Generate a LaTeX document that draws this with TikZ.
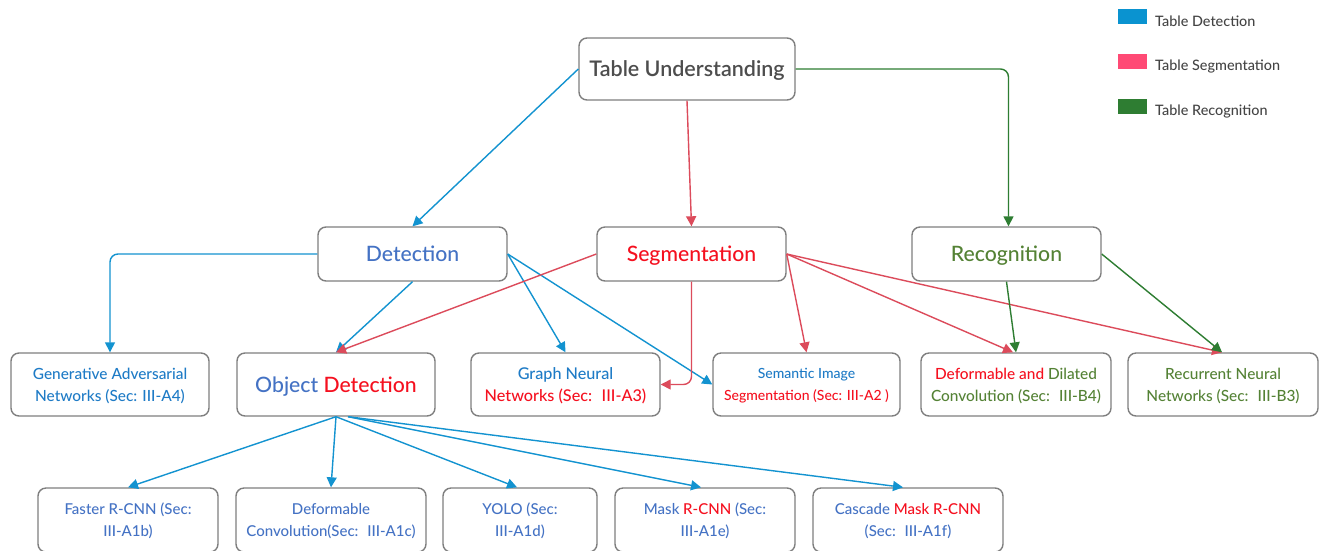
\documentclass[tikz,border=0pt]{standalone}
\usepackage{fontspec}
\IfFontExistsTF{Lato Medium}{\setmainfont{Lato Medium}}{\setmainfont{Lato}}
\IfFontExistsTF{Lato Semibold}{\newfontfamily\semib{Lato Semibold}}{\newcommand\semib{\bfseries}}
\usetikzlibrary{arrows.meta,calc}
\definecolor{boxgray}{HTML}{7F7F7F}
\definecolor{blueT}{HTML}{4472C4}
\definecolor{blueTT}{HTML}{1E7BC6}
\definecolor{redT}{HTML}{F5101F}
\definecolor{greenT}{HTML}{548235}
\definecolor{blueA}{HTML}{1393D0}
\definecolor{redA}{HTML}{DC4B5B}
\definecolor{greenA}{HTML}{2E7D32}
\definecolor{legBlue}{HTML}{0A93D0}
\definecolor{legPink}{HTML}{FF4A75}
\definecolor{legGreen}{HTML}{2E7D32}
\definecolor{darkT}{HTML}{4D4D4D}
\definecolor{legT}{HTML}{444444}
\tikzset{
  box/.style={draw=boxgray, line width=1.4pt, rounded corners=8pt, fill=white, align=center, inner sep=0pt, text depth=-5pt},
  big/.style={font=\fontsize{21.2}{25}\selectfont},
  mid/.style={font=\fontsize{15.4}{22}\selectfont},
  small/.style={font=\fontsize{15}{22}\selectfont},
  con/.style={line width=1.4pt, -{Triangle[length=10pt,width=10pt]}},
  legtext/.style={anchor=west, inner sep=0pt, text=legT, font=\fontsize{14.4}{16}\selectfont},
}
\begin{document}
\begin{tikzpicture}[x=1pt,y=-1pt]
\clip (0,0) rectangle (1324,550);
\fill[white] (0,0) rectangle (1324,550);
% top
\node[box, minimum width=216pt, minimum height=62pt, text=darkT, font=\fontsize{21.5}{25}\selectfont\semib] (tu) at (687,69) {Table Understanding};
% level 2
\node[box, big, minimum width=189pt, minimum height=54pt, text=blueT] (det) at (412.5,254) {Detection};
\node[box, big, minimum width=189pt, minimum height=54pt, text=redT] (seg) at (691.5,254) {Segmentation};
\node[box, big, minimum width=189pt, minimum height=54pt, text=greenT] (rec) at (1006.5,254) {Recognition};
% level 3
\node[box, mid, minimum width=198pt, minimum height=63pt, text=blueTT] (gan) at (110,384.5) {Generative Adversarial\\Networks (Sec: III-A4)};
\node[box, big, minimum width=198pt, minimum height=63pt] (obj) at (336,384.5) {\textcolor{blueT}{Object} \textcolor{redT}{Detection}};
\node[box, minimum width=189pt, minimum height=63pt, font=\fontsize{16.2}{22}\selectfont] (gnn) at (565.5,384.5) {\textcolor{blueTT}{Graph Neural}\\\textcolor{redT}{Networks (Sec:~ III-A3)}};
\node[box, minimum width=187pt, minimum height=63pt, font=\fontsize{14}{22}\selectfont] (sem) at (806.5,384.5) {\textcolor{blueTT}{Semantic Image}\\\textcolor{redT}{Segmentation (Sec: III-A2 )}};
\node[box, mid, minimum width=190pt, minimum height=63pt] (ddc) at (1016,384.5) {\textcolor{redT}{Deformable and} \textcolor{greenT}{Dilated}\\\textcolor{greenT}{Convolution (Sec:~ III-B4)}};
\node[box, mid, minimum width=190pt, minimum height=63pt, text=greenT] (rnn) at (1223,384.5) {Recurrent Neural\\Networks (Sec:~ III-B3)};
% level 4
\node[box, small, minimum width=180pt, minimum height=64pt, text=blueT] (frc) at (128,520) {Faster R-CNN (Sec:\\III-A1b)};
\node[box, small, minimum width=190pt, minimum height=64pt, text=blueT] (dcv) at (331,520) {Deformable\\Convolution(Sec:~ III-A1c)};
\node[box, small, minimum width=154pt, minimum height=64pt, text=blueT] (yolo) at (520,520) {YOLO (Sec:\\III-A1d)};
\node[box, small, minimum width=180pt, minimum height=64pt, text=blueT] (mrc) at (705,520) {Mask \textcolor{redT}{R-CNN} (Sec:\\III-A1e)};
\node[box, small, minimum width=190pt, minimum height=64pt, text=blueT] (cmr) at (908,520) {Cascade \textcolor{redT}{Mask R-CNN}\\(Sec:~ III-A1f)};
% connectors: detection (blue)
\draw[con, blueA] (tu.west) -- (det.north);
\draw[con, blueA, rounded corners=8pt] (det.west) -| (gan.north);
\draw[con, blueA] (det.south) -- (obj.north);
\draw[con, blueA] (det.east) -- (gnn.north);
\draw[con, blueA] (det.east) -- (sem.west);
\draw[con, blueA] (obj.south) -- (frc.north);
\draw[con, blueA] (obj.south) -- (dcv.north);
\draw[con, blueA] (obj.south) -- ($(yolo.north)+(-3,0)$);
\draw[con, blueA] ($(obj.south)+(12,0)$) -- ($(mrc.north)+(-4,0)$);
\draw[con, blueA] ($(obj.south)+(12,0)$) -- ($(cmr.north)+(-5,0)$);
% segmentation (red)
\draw[con, redA] (tu.south) -- (seg.north);
\draw[con, redA] (seg.west) -- (obj.north);
\draw[con, redA, rounded corners=8pt] (seg.south) |- (gnn.east);
\draw[con, redA] (seg.east) -- (sem.north);
\draw[con, redA] (seg.east) -- ($(ddc.north)+(-3,0)$);
\draw[con, redA] (seg.east) -- ($(rnn.north)+(-1,0)$);
% recognition (green)
\draw[con, greenA, rounded corners=8pt] (tu.east) -| ($(rec.north)+(2,0)$);
\draw[con, greenA] (rec.south) -- (ddc.north);
\draw[con, greenA] (rec.east) -- ($(rnn.north)+(-1,0)$);
% legend
\fill[legBlue] (1118,9) rectangle (1147,24);
\fill[legPink] (1118,54) rectangle (1147,69);
\fill[legGreen] (1118,99) rectangle (1147,114);
\node[legtext] (l1) at (1155,21.5) {Table Detection};
\node[legtext] (l2) at (1155,66.5) {Table Segmentation};
\node[legtext] (l3) at (1155,111.5) {Table Recognition};
\end{tikzpicture}
\end{document}
